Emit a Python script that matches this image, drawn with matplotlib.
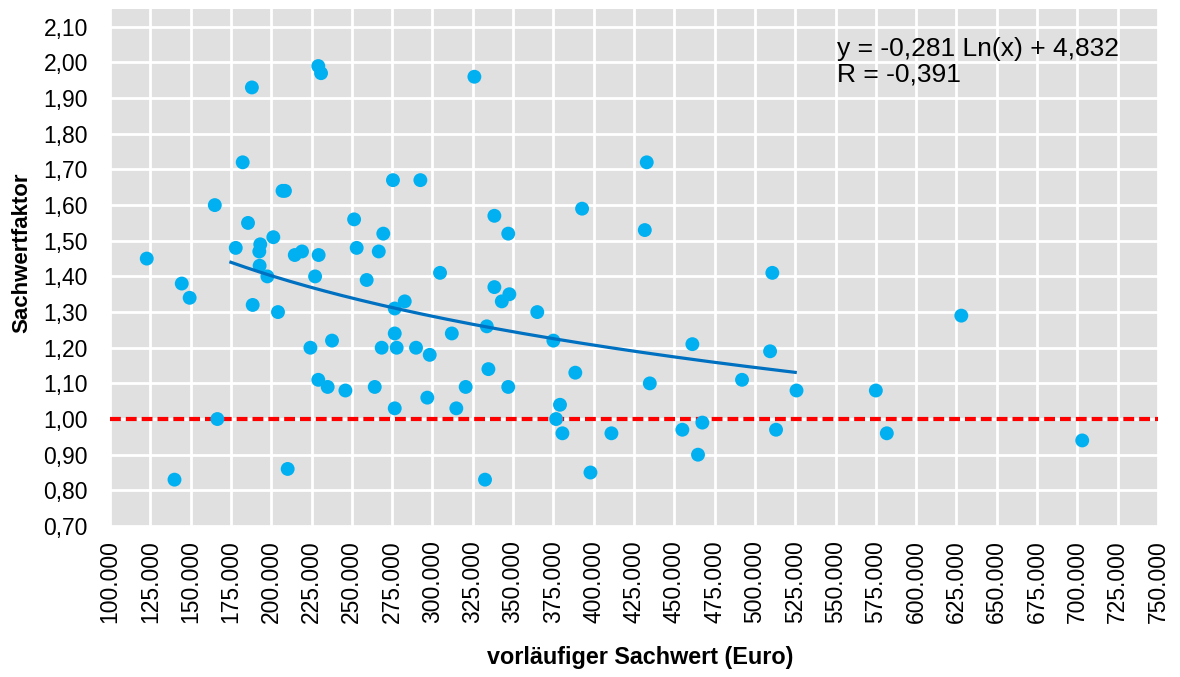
import numpy as np
import matplotlib.pyplot as plt
from matplotlib.ticker import FixedLocator, FuncFormatter

# vorläufiger Sachwert (Euro) / Sachwertfaktor
sachwert = [122800, 188000, 229200, 230900, 326000, 182300, 165000, 207000, 208500,
            275500, 292500, 338400, 185600, 201300, 251400, 269500, 178000, 193200,
            192600, 214600, 219100, 229400, 253000, 266700, 304700, 192800, 144500,
            149400, 197600, 227200, 259200, 188500, 204200, 282800, 276600, 338400,
            343000, 347700, 365000, 333700, 375000, 334700, 347000, 388600, 379100,
            376700, 380600, 411000, 398000, 332600, 434800, 461200, 455000, 467400,
            464700, 492000, 509400, 513100, 525800, 510800, 575000, 432900, 392800,
            347000, 431700, 166600, 140000, 210200, 224300, 237700, 229200, 235000,
            246000, 264200, 268500, 277800, 276600, 289800, 298300, 312000, 320600,
            296800, 276600, 314800, 581800, 628000, 703000]
faktor = [1.45, 1.93, 1.99, 1.97, 1.96, 1.72, 1.60, 1.64, 1.64,
          1.67, 1.67, 1.57, 1.55, 1.51, 1.56, 1.52, 1.48, 1.49,
          1.47, 1.46, 1.47, 1.46, 1.48, 1.47, 1.41, 1.43, 1.38,
          1.34, 1.40, 1.40, 1.39, 1.32, 1.30, 1.33, 1.31, 1.37,
          1.33, 1.35, 1.30, 1.26, 1.22, 1.14, 1.09, 1.13, 1.04,
          1.00, 0.96, 0.96, 0.85, 0.83, 1.10, 1.21, 0.97, 0.99,
          0.90, 1.11, 1.19, 0.97, 1.08, 1.41, 1.08, 1.72, 1.59,
          1.52, 1.53, 1.00, 0.83, 0.86, 1.20, 1.22, 1.11, 1.09,
          1.08, 1.09, 1.20, 1.20, 1.24, 1.20, 1.18, 1.24, 1.09,
          1.06, 1.03, 1.03, 0.96, 1.29, 0.94]

# logarithmic trend as printed in the chart
trend_a, trend_b = -0.281, 4.832
trend_range = (175000, 525000)
r_value = -0.391
referenz = 1.0

x_ticks = list(range(100000, 750001, 25000))
y_ticks = [round(0.7 + 0.1 * i, 2) for i in range(15)]

plt.rcParams['font.family'] = ['Liberation Sans', 'DejaVu Sans']

fig = plt.figure(figsize=(11.8, 6.77), dpi=100)
ax = fig.add_axes([110 / 1180, 1 - 526 / 677, 1048 / 1180, 517 / 677])
ax.set_facecolor('#e0e0e0')
for s in ax.spines.values():
    s.set_visible(False)

ax.set_xlim(100000, 750000)
ax.set_ylim(0.70, 2.15)
ax.xaxis.set_major_locator(FixedLocator(x_ticks))
ax.yaxis.set_major_locator(FixedLocator(y_ticks))
ax.xaxis.set_major_formatter(FuncFormatter(lambda v, p: f'{int(v):,}'.replace(',', '.')))
ax.yaxis.set_major_formatter(FuncFormatter(lambda v, p: f'{v:.2f}'.replace('.', ',')))
ax.grid(True, color='white', linewidth=2)
ax.set_axisbelow(True)
ax.tick_params(axis='both', length=0, labelsize=16.5)
ax.tick_params(axis='x', labelrotation=90, pad=10)
ax.tick_params(axis='y', pad=16)

ax.axhline(referenz, color='#ff0000', linewidth=3, dashes=(2.6, 1.2), zorder=2)

ax.scatter(sachwert, faktor, s=100, color='#00b0f0', edgecolors='none', zorder=3)

tx = np.linspace(trend_range[0], trend_range[1], 200)
ax.plot(tx, trend_a * np.log(tx) + trend_b, color='#0070c0', linewidth=2.3, zorder=4)

eq = f'y = {trend_a:.3f} Ln(x) + {trend_b:.3f}'.replace('.', ',')
rr = f'R = {r_value:.3f}'.replace('.', ',')
ax.text(0.694, 0.945, eq + '\n' + rr, transform=ax.transAxes, fontsize=19,
        va='top', ha='left', linespacing=1.05)

xl = ax.set_xlabel('vorläufiger Sachwert (Euro)', fontsize=16.8, fontweight='bold')
yl = ax.set_ylabel('Sachwertfaktor', fontsize=16, fontweight='bold')
xl.set_verticalalignment('center')
yl.set_verticalalignment('center')
ax.xaxis.set_label_coords(0.506, -0.255)
ax.yaxis.set_label_coords(-0.084, 0.528)

fig.savefig('out.png', dpi=100)
